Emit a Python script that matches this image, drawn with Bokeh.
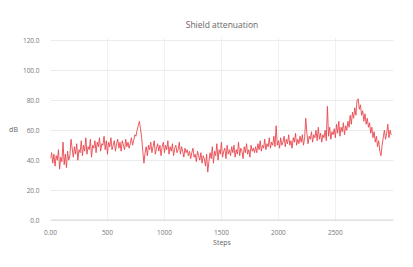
from bokeh.plotting import figure
from bokeh.models import Range1d, FixedTicker, Span
from bokeh.embed import file_html
from bokeh.resources import INLINE

step_size = 10
attenuation_db = [
    41, 45, 38, 44, 36, 43, 40, 47, 34, 42, 39, 52, 37, 44, 35, 46, 40, 43, 54, 48,
    42, 49, 44, 51, 40, 47, 45, 53, 43, 50, 46, 55, 44, 49, 47, 54, 42, 50, 48, 53,
    45, 52, 49, 55, 46, 51, 50, 56, 47, 53, 44, 52, 49, 55, 47, 50, 53, 46, 51, 54,
    48, 52, 46, 53, 50, 47, 54, 49, 52, 48, 51, 55, 50, 53, 57, 56, 60, 63, 66, 61,
    55, 46, 38, 45, 49, 43, 50, 47, 52, 45, 49, 53, 44, 48, 51, 46, 50, 43, 49, 52,
    45, 50, 47, 53, 44, 49, 46, 51, 43, 48, 50, 45, 47, 52, 44, 49, 46, 42, 48, 45,
    47, 43, 46, 41, 45, 48, 42, 44, 39, 46, 43, 40, 45, 38, 43, 41, 36, 44, 32, 39,
    45, 41, 49, 38, 46, 43, 51, 40, 47, 44, 52, 42, 46, 48, 41, 50, 44, 47, 43, 49,
    45, 50, 42, 47, 44, 52, 43, 48, 46, 41, 49, 45, 51, 44, 47, 42, 50, 46, 48, 45,
    49, 45, 51, 47, 53, 46, 50, 48, 54, 47, 51, 49, 55, 48, 52, 50, 56, 49, 63, 50,
    53, 48, 55, 50, 52, 56, 49, 54, 51, 57, 50, 53, 48, 55, 52, 58, 50, 54, 51, 56,
    52, 57, 50, 55, 68, 58, 51, 56, 54, 59, 52, 57, 55, 60, 53, 62, 54, 58, 52, 57,
    55, 60, 53, 76, 56, 62, 54, 59, 57, 61, 55, 64, 58, 66, 56, 62, 59, 65, 57, 63,
    60, 66, 62, 70, 64, 72, 68, 75, 70, 80, 81, 74, 77, 70, 73, 66, 71, 64, 68, 62,
    65, 58, 62, 55, 59, 52, 56, 49, 53, 46, 43, 50, 55, 60, 54, 58, 64, 55, 60, 57,
]
steps = [i * step_size for i in range(len(attenuation_db))]

x_ticks = [0, 500, 1000, 1500, 2000, 2500]
x_tick_labels = ["0.00", "500", "1000", "1500", "2000", "2500"]
y_ticks = [0, 20, 40, 60, 80, 100, 120]
y_tick_labels = ["0.0", "20.0", "40.0", "60.0", "80.0", "100.0", "120.0"]

p = figure(width=397, height=251, output_backend="svg", toolbar_location=None,
           title="Shield attenuation",
           x_range=Range1d(0, 3010), y_range=Range1d(-1, 122),
           min_border_left=50, min_border_right=4, min_border_top=37, min_border_bottom=30)

p.title.align = "center"
p.title.text_font = "Open Sans"
p.title.text_font_size = "8.5px"
p.title.text_font_style = "normal"
p.title.text_color = "#666666"
p.title.standoff = 15

p.line(steps, attenuation_db, line_color="#e8474f", line_width=0.9)

zero = Span(location=0, dimension="width", line_color="#d8d8d8", line_width=1)
p.add_layout(zero)

p.xaxis.ticker = FixedTicker(ticks=x_ticks)
p.xaxis.major_label_overrides = {t: l for t, l in zip(x_ticks, x_tick_labels)}
p.yaxis.ticker = FixedTicker(ticks=y_ticks)
p.yaxis.major_label_overrides = {t: l for t, l in zip(y_ticks, y_tick_labels)}

for ax in (p.xaxis, p.yaxis):
    ax.axis_line_color = None
    ax.major_tick_line_color = None
    ax.minor_tick_line_color = None
    ax.major_label_text_font = "Open Sans"
    ax.major_label_text_font_size = "6.5px"
    ax.major_label_text_color = "#777777"
    ax.axis_label_text_font = "Open Sans"
    ax.axis_label_text_font_size = "7px"
    ax.axis_label_text_font_style = "normal"
    ax.axis_label_text_color = "#666666"

p.xaxis.axis_label = "Steps"
p.xaxis.major_label_standoff = 2
p.xaxis.axis_label_standoff = 0
p.yaxis.axis_label = "dB"
p.yaxis.major_label_standoff = 5
p.yaxis.axis_label_standoff = 2
p.yaxis.major_label_orientation = "horizontal"
p.yaxis.axis_label_orientation = "horizontal"

p.xgrid.grid_line_color = "#f0f0f0"
p.ygrid.grid_line_color = "#ebebeb"
p.outline_line_color = None
p.background_fill_color = "white"
p.border_fill_color = "white"

open("out.html", "w").write(file_html(p, INLINE))
